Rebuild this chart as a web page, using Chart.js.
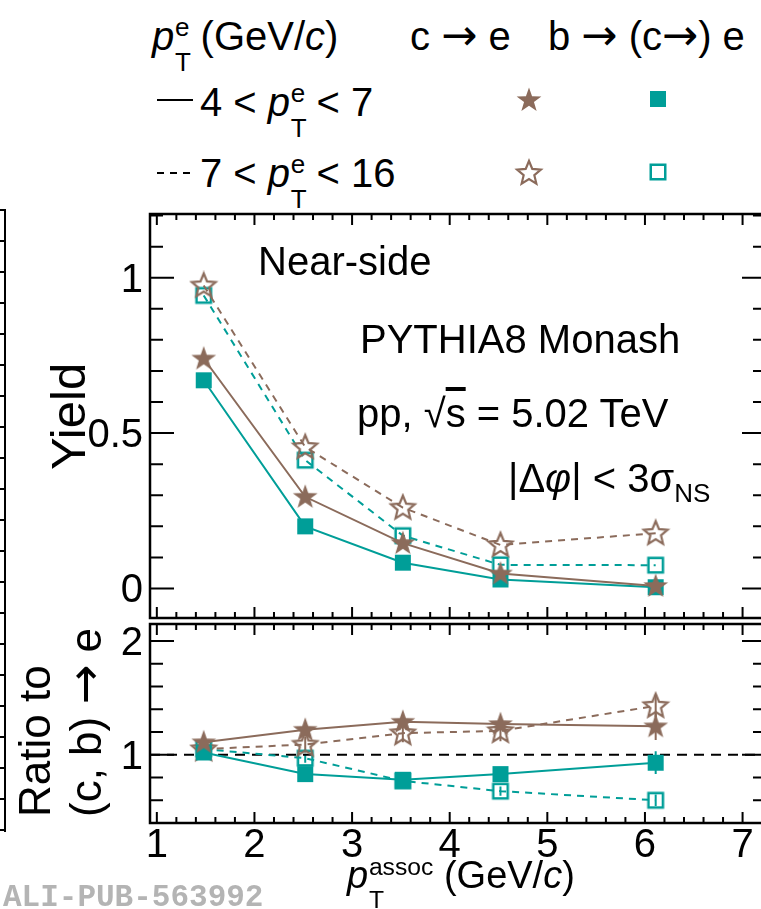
<!DOCTYPE html>
<html>
<head>
<meta charset="utf-8">
<script src="https://cdn.jsdelivr.net/npm/chart.js@4.4.0/dist/chart.umd.min.js"></script>
<style>
  html, body { margin: 0; padding: 0; background: #fff; overflow: hidden; }
  body { width: 761px; height: 909px; position: relative; color: #000;
         font-family: "Liberation Sans", Arial, Helvetica, sans-serif; }
  canvas { position: absolute; left: 0; }
  .txt { position: absolute; white-space: nowrap; line-height: 1; font-size: 40px; }
  .ss { display: inline-block; position: relative; font-size: 0.65em; line-height: 1; top: -0.54em; margin-left: 0.03em; }
  .ss .sup { display: block; }
  .ss .sub { position: absolute; left: 0; top: 1.35em; }
  .sb { font-size: 0.65em; position: relative; top: 0.38em; }
  .arr { font-family: "DejaVu Sans", sans-serif; font-size: 1.08em; line-height: 0; }
  .rot { position: absolute; white-space: nowrap; transform: rotate(-90deg); transform-origin: 0 0; }
  .lgline { position: absolute; left: 157px; width: 36px; height: 2px; }
  .edge { position: absolute; left: 0; top: 209px; width: 4px; height: 623px; border-right: 2px solid #000;
          background: repeating-linear-gradient(180deg, #000 0 2px, transparent 2px 31px); }
  .ali { position: absolute; left: 3px; top: 882px; font: bold 31px "Liberation Mono", "DejaVu Sans Mono", monospace;
         line-height: 1; color: #b4b4b4; white-space: nowrap; }
</style>
</head>
<body>
<div class="edge"></div>

<!-- legend -->
<div class="txt" style="left:152px; top:16px;"><i>p</i><span class="ss"><span class="sup">e</span><span class="sub">T</span></span> (GeV/<i>c</i>)</div>
<div class="txt" style="left:410px; top:16px;">c <span class="arr">→</span> e</div>
<div class="txt" style="left:548px; top:16px;">b <span class="arr">→</span> (c<span class="arr">→</span>) e</div>
<div class="lgline" style="top:99px; background:#000;"></div>
<div class="txt" style="left:200px; top:82px;">4 &lt; <i>p</i><span class="ss"><span class="sup">e</span><span class="sub">T</span></span> &lt; 7</div>
<div class="lgline" style="top:172px; background:repeating-linear-gradient(90deg,#000 0 7px,transparent 7px 13px);"></div>
<div class="txt" style="left:200px; top:153px;">7 &lt; <i>p</i><span class="ss"><span class="sup">e</span><span class="sub">T</span></span> &lt; 16</div>

<canvas id="yieldChart" width="780" height="430" style="top:200px; width:780px; height:430px;"></canvas>
<canvas id="ratioChart" width="780" height="299" style="top:610px; width:780px; height:299px;"></canvas>

<!-- panel texts -->
<div class="txt" style="left:258px; top:241px;">Near-side</div>
<div class="txt" style="left:360px; top:319px;">PYTHIA8 Monash</div>
<div class="txt" style="left:357px; top:393px;">pp, √<span style="text-decoration:overline;">s</span> = 5.02 TeV</div>
<div class="txt" style="left:508px; top:458px;">|Δ<i>φ</i>| &lt; 3σ<span class="sb">NS</span></div>

<div class="rot" style="left:44px; top:470px; font-size:49px; line-height:49px;">Yield</div>
<div class="rot" style="left:9px; top:817px; font-size:44px; line-height:51px;">Ratio to<br>(c, b) <span class="arr">→</span> e</div>
<div class="txt" style="left:347px; top:856px; font-size:38px;"><i>p</i><span class="ss"><span class="sup">assoc</span><span class="sub">T</span></span> (GeV/<i>c</i>)</div>

<div class="ali">ALI-PUB-563992</div>

<script>
const BROWN = '#8b6b5b';
const TEAL = '#009e98';

const xAssoc = [1.48, 2.52, 3.52, 4.52, 6.11];

// near-side yields
const yieldC47 = [0.74, 0.295, 0.146, 0.048, 0.008];
const yieldB47 = [0.67, 0.20, 0.083, 0.029, 0.004];
const yieldC716 = [0.975, 0.455, 0.26, 0.14, 0.178];
const yieldB716 = [0.943, 0.413, 0.17, 0.076, 0.075];

// ratio to the inclusive (c, b) -> e yield
const ratioC47 = [1.11, 1.22, 1.29, 1.27, 1.25];
const ratioB47 = [1.02, 0.83, 0.78, 0.83, 0.93];
const ratioC716 = [1.05, 1.09, 1.19, 1.21, 1.43];
const ratioB716 = [1.05, 0.97, 0.77, 0.68, 0.60];
const errRatioC47 = [0.03, 0.04, 0.05, 0.05, 0.12];
const errRatioB47 = [0.02, 0.03, 0.04, 0.04, 0.1];
const errRatioC716 = [0.03, 0.07, 0.08, 0.09, 0.1];
const errRatioB716 = [0.02, 0.04, 0.04, 0.04, 0.05];

const xRange = [0.93, 7.24];
const yieldRange = [-0.095, 1.205];
const ratioRange = [0.4, 2.15];
const xTickValues = [1, 2, 3, 4, 5, 6, 7];
const yieldTickValues = [0, 0.5, 1];
const yieldTickLabels = ['0', '0.5', '1'];
const ratioTickValues = [1, 2];
const ratioTickLabels = ['1', '2'];

function starPath(g, cx, cy, ro, ri) {
  g.beginPath();
  for (let i = 0; i < 10; i++) {
    const r = i % 2 ? ri : ro;
    const a = -Math.PI / 2 + i * Math.PI / 5;
    g.lineTo(cx + r * Math.cos(a), cy + r * Math.sin(a));
  }
  g.closePath();
}

function makeMarker(kind, color) {
  const c = document.createElement('canvas');
  c.width = 30; c.height = 30;
  const g = c.getContext('2d');
  g.fillStyle = color; g.strokeStyle = color;
  if (kind === 'star') { starPath(g, 15, 15.5, 13, 5.2); g.fill(); }
  else if (kind === 'openStar') { starPath(g, 15, 15.5, 12.5, 5.6); g.lineWidth = 2.2; g.stroke(); }
  else if (kind === 'square') g.fillRect(7, 7, 16, 16);
  else { g.lineWidth = 2.5; g.strokeRect(7.75, 7.75, 14.5, 14.5); }
  return c;
}

const markers = {
  star: makeMarker('star', BROWN),
  openStar: makeMarker('openStar', BROWN),
  square: makeMarker('square', TEAL),
  openSquare: makeMarker('openSquare', TEAL),
};

// ROOT-like frame: inward ticks on all four sides plus tick labels
const rootFrame = {
  id: 'rootFrame',
  beforeDatasetsDraw(chart) {
    const { ctx, scales: { x, y } } = chart;
    chart.data.datasets.forEach((ds) => {
      if (!ds.errors) return;
      ctx.save();
      ctx.strokeStyle = ds.borderColor;
      ctx.lineWidth = 2;
      ctx.beginPath();
      ds.data.forEach((p, j) => {
        const px = x.getPixelForValue(p.x);
        ctx.moveTo(px, y.getPixelForValue(p.y - ds.errors[j]));
        ctx.lineTo(px, y.getPixelForValue(p.y + ds.errors[j]));
      });
      ctx.stroke();
      ctx.restore();
    });
  },
  afterDraw(chart, args, opts) {
    const { ctx, chartArea: a, scales: { x, y } } = chart;
    ctx.save();
    ctx.strokeStyle = '#000';
    ctx.lineWidth = 2;
    ctx.beginPath();
    for (let k = Math.ceil(x.min * 5); k <= Math.floor(x.max * 5); k++) {
      const px = x.getPixelForValue(k / 5);
      const len = k % 5 === 0 ? 11 : 6;
      ctx.moveTo(px, a.bottom); ctx.lineTo(px, a.bottom - len);
      ctx.moveTo(px, a.top); ctx.lineTo(px, a.top + len);
    }
    const step = opts.yStep;
    for (let k = Math.ceil(y.min / step + 1e-6); k <= Math.floor(y.max / step - 1e-6); k++) {
      const v = k * step;
      const major = opts.yMajor.some((m) => Math.abs(m - v) < 1e-6);
      const len = major ? 24 : 13;
      const py = y.getPixelForValue(v);
      ctx.moveTo(a.left, py); ctx.lineTo(a.left + len, py);
      ctx.moveTo(a.right, py); ctx.lineTo(a.right - len, py);
    }
    ctx.stroke();
    ctx.lineWidth = 2.5;
    ctx.strokeRect(a.left, a.top, a.width, a.height);

    ctx.fillStyle = '#000';
    ctx.font = '40px "Liberation Sans", Arial, sans-serif';
    ctx.textAlign = 'right';
    ctx.textBaseline = 'alphabetic';
    opts.yMajor.forEach((v, i) => ctx.fillText(opts.yLabels[i], a.left - 7, y.getPixelForValue(v) + 14));
    if (opts.xLabels) {
      ctx.textAlign = 'center';
      opts.xLabels.forEach((v) => ctx.fillText(String(v), x.getPixelForValue(v), a.bottom + 34));
    }
    ctx.restore();
  },
};

function series(ys, color, marker, dashed, errors) {
  return {
    data: xAssoc.map((x, i) => ({ x, y: ys[i] })),
    borderColor: color,
    borderWidth: 2,
    borderDash: dashed ? [7, 6] : [],
    pointStyle: markers[marker],
    pointRadius: 10,
    pointHoverRadius: 10,
    fill: false,
    errors,
  };
}

function buildChart(id, datasets, yRange, frame, padding) {
  return new Chart(document.getElementById(id), {
    type: 'line',
    data: { datasets },
    options: {
      responsive: false,
      animation: false,
      devicePixelRatio: 1,
      layout: { padding },
      elements: { line: { tension: 0 } },
      scales: {
        x: { type: 'linear', min: xRange[0], max: xRange[1], display: false },
        y: { type: 'linear', min: yRange[0], max: yRange[1], display: false },
      },
      plugins: { legend: { display: false }, tooltip: { enabled: false }, rootFrame: frame },
    },
    plugins: [rootFrame],
  });
}

buildChart('yieldChart', [
  series(yieldC47, BROWN, 'star', false),
  series(yieldB47, TEAL, 'square', false),
  series(yieldC716, BROWN, 'openStar', true),
  series(yieldB716, TEAL, 'openSquare', true),
], yieldRange, { yStep: 0.1, yMajor: yieldTickValues, yLabels: yieldTickLabels },
{ left: 150, right: 14, top: 14, bottom: 6 });

buildChart('ratioChart', [
  series(ratioC47, BROWN, 'star', false, errRatioC47),
  series(ratioB47, TEAL, 'square', false, errRatioB47),
  series(ratioC716, BROWN, 'openStar', true, errRatioC716),
  series(ratioB716, TEAL, 'openSquare', true, errRatioB716),
  {
    data: [{ x: xRange[0], y: 1 }, { x: xRange[1], y: 1 }],
    borderColor: '#000', borderWidth: 2, borderDash: [10, 7], pointRadius: 0, fill: false,
  },
], ratioRange, { yStep: 0.2, yMajor: ratioTickValues, yLabels: ratioTickLabels, xLabels: xTickValues },
{ left: 150, right: 14, top: 14, bottom: 86 });

// legend markers
[['star', BROWN, 529, 100], ['square', TEAL, 658, 99], ['openStar', BROWN, 529, 173], ['openSquare', TEAL, 658, 172]]
  .forEach(([kind, color, cx, cy]) => {
    const c = makeMarker(kind, color);
    c.style.left = (cx - 15) + 'px';
    c.style.top = (cy - 15) + 'px';
    document.body.appendChild(c);
  });
</script>
</body>
</html>
